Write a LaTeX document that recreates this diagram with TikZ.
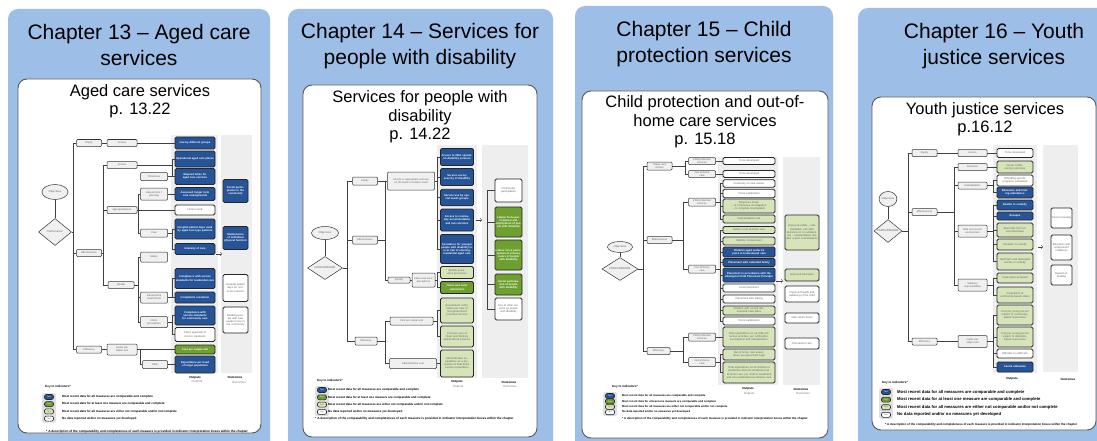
\documentclass[tikz,border=0pt]{standalone}
\usepackage{fontspec}
\setmainfont{Liberation Sans}
\usetikzlibrary{positioning,shapes.geometric}

\definecolor{panelblue}{RGB}{157,190,230}
\definecolor{indblue}{RGB}{38,84,150}
\definecolor{indgreen}{RGB}{110,160,48}
\definecolor{indlight}{RGB}{214,228,186}
\definecolor{colgray}{RGB}{238,238,238}
\definecolor{fwgray}{RGB}{240,240,240}
\definecolor{fwtext}{RGB}{100,100,100}

\begin{document}
\begin{tikzpicture}[x=1pt,y=-1pt,
    panel/.style={fill=panelblue, rounded corners=10pt},
    card/.style={fill=white, draw=black!65, line width=0.9pt, rounded corners=9pt},
    chap/.style={font=\fontsize{21}{26}\selectfont, align=center},
    subttl/.style={font=\fontsize{16.5}{18.5}\selectfont, align=center},
    tinytxt/.style={font=\fontsize{2.7}{3.1}\selectfont},
    fw/.style={draw=black!80, fill=fwgray, rounded corners=1pt, line width=0.5pt, text=fwtext, font=\fontsize{2.6}{2.9}\selectfont, align=center, inner sep=0.5pt},
    ind/.style={draw=black!85, rounded corners=1.5pt, line width=0.8pt, tinytxt, align=center, inner sep=0.5pt},
    blu/.style={ind, fill=indblue, text=white, font=\fontsize{2.7}{3.1}\selectfont\bfseries},
    grn/.style={ind, fill=indgreen, text=white, font=\fontsize{2.7}{3.1}\selectfont\bfseries},
    lgr/.style={ind, fill=indlight, text=fwtext},
    wht/.style={ind, fill=white, text=fwtext},
    outcol/.style={fill=colgray},
    objnode/.style={ellipse, draw=black!80, fill=fwgray, line width=0.5pt, text=fwtext, tinytxt, inner sep=0pt},
    perfnode/.style={diamond, draw=black!80, fill=fwgray, line width=0.5pt, text=fwtext, tinytxt, inner sep=0pt},
    link/.style={draw=black!75, line width=0.5pt},
    wd/.style={text width=#1pt},
    ht/.style={minimum height=#1pt},
    colhead/.style={font=\fontsize{3}{3.5}\selectfont\bfseries},
    colsub/.style={font=\fontsize{3}{3.5}\selectfont, text=black!50},
    pill/.style={draw=black!85, line width=0.6pt, rounded corners=2pt, minimum width=9pt, minimum height=5pt, inner sep=0pt, font=\fontsize{2}{2}\selectfont, text=fwtext},
    keyhd/.style={font=\fontsize{3}{3}\selectfont\bfseries, inner sep=0pt},
    keytxt/.style={inner sep=0pt}]

\useasboundingbox (0,0) rectangle (1097,441);
\clip (0,0) rectangle (1097,441);
\fill[white] (0,0) rectangle (1097,441);

\fill[panel] (8,9) rectangle (270,470);
\fill[panel] (288,9) rectangle (553,470);
\fill[panel] (575,6) rectangle (833,470);
\fill[panel] (858,8) rectangle (1125,470);

\draw[card] (18,79) rectangle (261,433);
\draw[card] (303,85) rectangle (537,437);
\draw[card] (582,91) rectangle (828,438);
\draw[card] (872,97) rectangle (1096,430);

\node[chap] (t13) at (139,45) {Chapter 13 – Aged care\\services};
\node[chap] (t14) at (420,46) {Chapter 14 – Services for\\people with disability};
\node[chap] (t15) at (704,44) {Chapter 15 – Child\\protection services};
\node[chap] (t16) at (994,46) {Chapter 16 – Youth\\justice services};

\node[subttl] (s13) at (140,101) {Aged care services\\p. 13.22};
\node[subttl] (s14) at (420,117) {Services for people with\\disability\\p. 14.22};
\node[subttl] (s15) at (705,122) {Child protection and out-of-\\home care services\\p. 15.18};
\node[subttl] (s16) at (985,119) {Youth justice services\\p.16.12};

% Chapter 13
\fill[outcol] (171,135) rectangle (218,373);
\fill[outcol] (221,135) rectangle (252,373);
\node[objnode, minimum width=26pt, minimum height=15pt] (obj1) at (55,192) {Objectives};
\node[perfnode, minimum width=33pt, minimum height=27pt] (perf1) at (55,232) {Performance};
\draw[link] (obj1) -- (perf1);
\node[fw, wd=24, ht=7] (eq1) at (89,143) {Equity};
\node[fw, wd=24, ht=7] (ef1) at (89,253) {Effectiveness};
\node[fw, wd=24, ht=7] (ey1) at (89,349.5) {Efficiency};
\coordinate (tr11) at (73,232);
\draw[link] (perf1) -- (tr11);
\draw[link] (eq1.west) -| (tr11);
\draw[link] (ef1.west) -| (tr11);
\draw[link] (ey1.west) -| (tr11);

\node[fw, wd=29, ht=7] (acc1) at (122,143) {Access};
\node[blu, wd=39, ht=12] (use1) at (195,143) {Use by different groups};
\draw[link] (eq1) -- (acc1);
\draw[link] (acc1) -- (use1);

\coordinate (tr12) at (103,253);
\draw[link] (ef1) -- (tr12);
\node[fw, wd=29, ht=7] (acc2) at (122,165) {Access};
\node[fw, wd=29, ht=7] (app1) at (122,210) {Appropriateness};
\node[fw, wd=25, ht=7] (qua1) at (121,285) {Quality};
\draw[link] (acc2.west) -| (tr12);
\draw[link] (app1.west) -| (tr12);
\draw[link] (qua1.west) -| (tr12);

\node[blu, wd=39, ht=16] (opp1) at (195,159) {Operational aged care places};
\node[fw, wd=26, ht=8] (tim1) at (154,176.5) {Timeliness};
\node[blu, wd=39, ht=16] (ela1) at (195,176.5) {Elapsed times for aged care services};
\coordinate (j11) at (172,165);
\draw[link] (acc2) -- (j11);
\draw[link] (opp1.west) -| (j11);
\draw[link] (ela1.west) -| (j11);
\draw[link] (tim1) -- (ela1);

\coordinate (tr13) at (138,210);
\node[fw, wd=26, ht=12] (asm1) at (154,194) {Assessment /\\planning};
\node[blu, wd=39, ht=13] (alt1) at (195,194) {Assessed longer term care arrangements};
\node[wht, wd=39, ht=10] (unm1) at (195,210) {Unmet need};
\node[fw, wd=26, ht=8] (care1) at (154,233) {Care};
\node[blu, wd=39, ht=20] (hos1) at (195,229) {Hospital patient days used by aged care type patients};
\node[blu, wd=39, ht=11] (int1) at (195,249) {Intensity of care};
\coordinate (j12) at (172,233);
\draw[link] (app1) -- (unm1);
\draw[link] (asm1.west) -| (tr13);
\draw[link] (care1.west) -| (tr13);
\draw[link] (asm1) -- (alt1);
\draw[link] (care1) -- (j12);
\draw[link] (hos1.west) -| (j12);
\draw[link] (int1.west) -| (j12);

\coordinate (tr14) at (138,285);
\draw[link] (qua1) -- (tr14);
\node[fw, wd=26, ht=10] (saf1) at (154,257) {Safety};
\node[fw, wd=26, ht=11] (ina1) at (154,297.5) {Independent\\assessment};
\node[fw, wd=26, ht=11] (cli1) at (154,322) {Client\\perceptions};
\draw[link] (saf1.west) -| (tr14);
\draw[link] (ina1.west) -| (tr14);
\draw[link] (cli1.west) -| (tr14);
\node[blu, wd=39, ht=20] (csr1) at (195,278.5) {Compliance with service standards for residential care};
\node[blu, wd=39, ht=11] (cre1) at (195,297.5) {Complaints resolution};
\node[blu, wd=39, ht=19] (csc1) at (195,315.5) {Compliance with service standards for community care};
\node[wht, wd=39, ht=14] (cap1) at (195,334.5) {Client appraisal of service standards};
\coordinate (j13) at (172,297.5);
\coordinate (j14) at (172,322);
\draw[link] (ina1) -- (cre1);
\draw[link] (csr1.west) -| (j13);
\draw[link] (cli1) -- (j14);
\draw[link] (csc1.west) -| (j14);
\draw[link] (cap1.west) -| (j14);

\node[fw, wd=29, ht=11] (inp1) at (122,349.5) {Inputs per\\output unit};
\node[grn, wd=39, ht=9] (cpo1) at (195,349.5) {Cost per output unit};
\node[fw, wd=24, ht=8] (oth1) at (155,364.5) {Other};
\node[blu, wd=39, ht=17] (exp1) at (195,364.5) {Expenditure per head of target population};
\coordinate (tr15) at (140,349.5);
\draw[link] (ey1) -- (inp1);
\draw[link] (inp1) -- (cpo1);
\draw[link] (oth1.west) -| (tr15);
\draw[link] (oth1) -- (exp1);

\node[blu, wd=24, ht=23] (soc1) at (235.5,191) {Social participation in the community};
\node[blu, wd=24, ht=23] (mai1) at (235.5,238) {Maintenance of individual physical function};
\node[wht, wd=24, ht=27] (hpd1) at (235.5,288) {Hospital patient days for non-acute reasons};
\node[wht, wd=24, ht=26] (enb1) at (235.5,320) {Enabling people with care needs to live in the community};
\coordinate (oa1) at (216,254);
\coordinate (ob1) at (222,254);
\draw[link,->] (oa1) -- (ob1);
\node[colhead] (op1) at (195,377.5) {Outputs};
\node[colsub] (ops1) at (197,382) {Outputs};
\node[colhead] (oc1) at (235,377.5) {Outcomes};
\node[colsub] (ocs1) at (239,382) {Outcomes};

% Chapter 14
\fill[outcol] (437,145) rectangle (477,378);
\fill[outcol] (482,145) rectangle (528,378);
\node[objnode, minimum width=27pt, minimum height=13pt] (obj2) at (325,233) {Objectives};
\node[perfnode, minimum width=35pt, minimum height=23pt] (perf2) at (325,268) {PERFORMANCE};
\draw[link] (obj2) -- (perf2);
\node[fw, wd=24, ht=8] (eq2) at (365,181) {Equity};
\node[fw, wd=24, ht=8] (ef2) at (365,240) {Effectiveness};
\node[fw, wd=21, ht=8] (ey2) at (366,341) {Efficiency};
\coordinate (tr21) at (347,268);
\draw[link] (perf2) -- (tr21);
\draw[link] (eq2.west) -| (tr21);
\draw[link] (ef2.west) -| (tr21);
\draw[link] (ey2.west) -| (tr21);

\node[fw, wd=46, ht=18] (acr2) at (411,181) {Access to appropriate services on the basis of relative need};
\node[fw, wd=21, ht=6] (qua2) at (399,280) {Quality};
\node[fw, wd=22, ht=14] (cpr2) at (423.5,280) {Client and carer perceptions};
\coordinate (tr22) at (385,240);
\draw[link] (eq2) -- (acr2);
\draw[link] (ef2) -- (tr22);
\draw[link] (acr2.west) -| (tr22);
\draw[link] (qua2.west) -| (tr22);
\draw[link] (qua2) -- (cpr2);

\node[blu, wd=32, ht=17] (i21) at (457,157) {Access to NDA specialist disability services};
\node[blu, wd=32, ht=17] (i22) at (457,177) {Service use by severity of disability};
\node[blu, wd=32, ht=16.5] (i23) at (457,197.5) {Service use by special needs groups};
\node[blu, wd=32, ht=22] (i24) at (457,220) {Access to community accommodation and care services};
\node[blu, wd=32, ht=29] (i25) at (457,249) {Assistance for younger people with disability in, or at risk of entering, residential aged care};
\node[lgr, wd=32, ht=12] (i26) at (457,272.5) {Quality assurance processes};
\node[grn, wd=32, ht=12] (i27) at (457,287.5) {Client and carer satisfaction};
\node[lgr, wd=32, ht=25] (i28) at (457,310.5) {Government contribution per user of non-government provided services};
\node[lgr, wd=32, ht=21] (i29) at (457,336.5) {Cost per user of State and Territory administered services};
\node[lgr, wd=32, ht=27] (i210) at (457,363.5) {Administration expenditure as a proportion of total direct service expenditure};
\coordinate (j21) at (437.5,181);
\draw[link] (acr2) -- (j21);
\draw[link] (i21.west) -| (j21);
\draw[link] (i22.west) -| (j21);
\draw[link] (i23.west) -| (j21);
\draw[link] (i24.west) -| (j21);
\draw[link] (i25.west) -| (j21);
\coordinate (j22) at (437.5,280);
\draw[link] (cpr2) -- (j22);
\draw[link] (i26.west) -| (j22);
\draw[link] (i27.west) -| (j22);

\node[fw, wd=42, ht=8] (cpu2) at (411.5,321) {Cost per output unit};
\node[fw, wd=46, ht=10] (adm2) at (413,363.5) {Administrative cost};
\coordinate (tr23) at (385,341);
\draw[link] (ey2) -- (tr23);
\draw[link] (cpu2.west) -| (tr23);
\draw[link] (adm2.west) -| (tr23);
\coordinate (j23) at (437.5,321);
\draw[link] (cpu2) -- (j23);
\draw[link] (i28.west) -| (j23);
\draw[link] (i29.west) -| (j23);
\draw[link] (adm2) -- (i210);

\node[wht, wd=26, ht=23] (o21) at (508.5,190.5) {Community participation};
\node[grn, wd=26, ht=30] (o22) at (508.5,222) {Labour force participation and employment of people with disability};
\node[grn, wd=26, ht=30] (o23) at (508.5,255) {Labour force participation of primary carers of people with disability};
\node[grn, wd=26, ht=21] (o24) at (508.5,284.5) {Social participation of people with disability};
\node[wht, wd=26, ht=22] (o25) at (508.5,309) {Use of other services by people with disability};
\coordinate (oj2) at (487,250);
\draw[link] (o21.west) -| (oj2);
\draw[link] (o22.west) -| (oj2);
\draw[link] (o23.west) -| (oj2);
\draw[link] (o24.west) -| (oj2);
\draw[link] (o25.west) -| (oj2);
\coordinate (oa2) at (476,220);
\coordinate (ob2) at (482,220);
\draw[link,->] (oa2) -- (ob2);
\node[colhead] (op2) at (457,382) {Outputs};
\node[colsub] (ops2) at (458,386.5) {Outputs};
\node[colhead] (oc2) at (509,382) {Outcomes};
\node[colsub] (ocs2) at (510,386.5) {Outcomes};

% Chapter 15
\fill[outcol] (718,157) rectangle (778,385);
\fill[outcol] (783,157) rectangle (820,385);
\node[objnode, minimum width=25pt, minimum height=11pt] (obj3) at (620,247) {Objectives};
\node[perfnode, minimum width=36pt, minimum height=20pt] (perf3) at (620,269) {PERFORMANCE};
\draw[link] (obj3) -- (perf3);
\node[fw, wd=24, ht=8] (eq3) at (659.5,166) {Equity and\\access};
\node[fw, wd=24, ht=7] (ef3) at (659.5,240) {Effectiveness};
\node[fw, wd=22, ht=7] (ey3) at (658.5,351) {Efficiency};
\coordinate (tr31) at (643,269);
\draw[link] (perf3) -- (tr31);
\draw[link] (eq3.west) -| (tr31);
\draw[link] (ef3.west) -| (tr31);
\draw[link] (ey3.west) -| (tr31);

\node[fw, wd=26, ht=7] (cps31) at (702,161) {Child protection\\services};
\node[fw, wd=26, ht=7] (ohc31) at (702,174) {Out-of-home\\care};
\node[wht, wd=51, ht=7] (tbd31) at (749,161) {To be developed};
\node[wht, wd=51, ht=7] (tbd32) at (749,174) {To be developed};
\coordinate (tr32) at (685,166);
\draw[link] (eq3) -- (tr32);
\draw[link] (cps31.west) -| (tr32);
\draw[link] (ohc31.west) -| (tr32);
\draw[link] (cps31) -- (tbd31);
\draw[link] (ohc31) -- (tbd32);

\node[fw, wd=26, ht=8] (cps32) at (702,202) {Child protection\\services};
\node[fw, wd=26, ht=8] (ohc32) at (702,269) {Out-of-home\\care};
\coordinate (tr33) at (683,240);
\draw[link] (ef3) -- (tr33);
\draw[link] (cps32.west) -| (tr33);
\draw[link] (ohc32.west) -| (tr33);
\node[wht, wd=51, ht=7.5] (c31) at (749,183.5) {Continuity of case worker};
\node[wht, wd=51, ht=8.5] (c32) at (749,193.5) {Client satisfaction};
\node[lgr, wd=51, ht=14] (c33) at (749,206) {Response times:\\– to commence investigation\\– to complete investigation};
\node[lgr, wd=51, ht=8] (c34) at (749,219) {Substantiation rate};
\coordinate (j31) at (720,202);
\draw[link] (cps32) -- (j31);
\draw[link] (c31.west) -| (j31);
\draw[link] (c32.west) -| (j31);
\draw[link] (c33.west) -| (j31);
\draw[link] (c34.west) -| (j31);
\node[lgr, wd=51, ht=7] (d31) at (749,230) {Safety in out-of-home care};
\node[lgr, wd=51, ht=8] (d32) at (749,241) {Stability of placement};
\node[blu, wd=51, ht=10] (d33) at (749,252) {Children aged under 12 years in home-based care};
\node[blu, wd=51, ht=8] (d34) at (749,262.5) {Placement with extended family};
\node[blu, wd=51, ht=14] (d35) at (749,275) {Placement in accordance with the Aboriginal Child Placement Principle};
\node[wht, wd=51, ht=8] (d36) at (749,288) {Local placement};
\node[wht, wd=51, ht=8] (d37) at (749,299) {Placement with sibling};
\node[lgr, wd=51, ht=9] (d38) at (749,310.5) {Children with current documented case plans};
\node[wht, wd=51, ht=8] (d39) at (749,321) {Client satisfaction};
\coordinate (j32) at (720,269);
\draw[link] (ohc32) -- (j32);
\draw[link] (d31.west) -| (j32);
\draw[link] (d32.west) -| (j32);
\draw[link] (d33.west) -| (j32);
\draw[link] (d34.west) -| (j32);
\draw[link] (d35.west) -| (j32);
\draw[link] (d36.west) -| (j32);
\draw[link] (d37.west) -| (j32);
\draw[link] (d38.west) -| (j32);
\draw[link] (d39.west) -| (j32);

\node[fw, wd=26, ht=8] (cps33) at (702,337) {Child protection\\services};
\node[fw, wd=26, ht=9] (ohc33) at (702,362) {Out-of-home\\care};
\coordinate (tr34) at (683,351);
\draw[link] (ey3) -- (tr34);
\draw[link] (cps33.west) -| (tr34);
\draw[link] (ohc33.west) -| (tr34);
\node[lgr, wd=51, ht=20] (e31) at (749,337) {Total expenditure on all child protection activities, per notification, investigation and substantiation};
\node[lgr, wd=51, ht=11] (e32) at (749,354.5) {Out-of-home care expenditure per placement night};
\node[lgr, wd=51, ht=21] (e33) at (749,372.5) {Total expenditure on all children in residential and non-residential out-of-home care, per child in residential and non-residential out-of-home care};
\coordinate (j33) at (720,362);
\draw[link] (cps33) -- (e31);
\draw[link] (ohc33) -- (j33);
\draw[link] (e32.west) -| (j33);
\draw[link] (e33.west) -| (j33);

\node[lgr, wd=33, ht=35] (f31) at (802,232.5) {Improved safety – substantiation rate after decision not to substantiate – substantiation rate after a prior substantiation};
\node[lgr, wd=33, ht=12] (f32) at (802,275) {Improved education};
\node[wht, wd=33, ht=16] (f33) at (802,294) {Improved health and wellbeing of the child};
\node[wht, wd=33, ht=10] (f34) at (802,318) {Safe return home};
\node[wht, wd=33, ht=11] (f35) at (802,343.5) {Permanent care};
\coordinate (oa3) at (776,281);
\coordinate (ob3) at (783,281);
\draw[link,->] (oa3) -- (ob3);
\node[colhead] (op3) at (748,389) {Outputs};
\node[colsub] (ops3) at (749,393.5) {Outputs};
\node[colhead] (oc3) at (801,389) {Outcomes};
\node[colsub] (ocs3) at (803,393.5) {Outcomes};

% Chapter 16
\fill[outcol] (993,145) rectangle (1037,373);
\fill[outcol] (1043,145) rectangle (1078,372);
\node[objnode, minimum width=14pt, minimum height=15pt] (obj4) at (888,199) {Objectives};
\node[perfnode, minimum width=28pt, minimum height=20pt] (perf4) at (888,231) {PERFORMANCE};
\draw[link] (obj4) -- (perf4);
\node[fw, wd=24, ht=7] (eq4) at (924.5,153) {Equity};
\node[fw, wd=24, ht=7] (ef4) at (924.5,212) {Effectiveness};
\node[fw, wd=24, ht=7] (ey4) at (924.5,341.5) {Efficiency};
\coordinate (tr41) at (908,231);
\draw[link] (perf4) -- (tr41);
\draw[link] (eq4.west) -| (tr41);
\draw[link] (ef4.west) -| (tr41);
\draw[link] (ey4.west) -| (tr41);

\node[fw, wd=28, ht=7] (ac4) at (972.5,153) {Access};
\node[wht, wd=35, ht=9] (tb4) at (1015,153) {To be developed};
\draw[link] (eq4) -- (ac4);
\draw[link] (ac4) -- (tb4);

\coordinate (tr42) at (954,212);
\draw[link] (ef4) -- (tr42);
\node[fw, wd=28, ht=7] (div4) at (972.5,167) {Diversion};
\node[fw, wd=28, ht=7] (reh4) at (972.5,185.5) {Rehabilitation};
\node[fw, wd=28, ht=12] (saf4) at (972.5,231) {Safe and secure\\environment};
\node[fw, wd=28, ht=12] (sta4) at (972.5,285) {Statutory\\responsibilities};
\draw[link] (div4.west) -| (tr42);
\draw[link] (reh4.west) -| (tr42);
\draw[link] (saf4.west) -| (tr42);
\draw[link] (sta4.west) -| (tr42);

\node[lgr, wd=35, ht=12] (g41) at (1015,167) {Group conferencing outcomes};
\node[wht, wd=35, ht=11] (g42) at (1015,180.5) {Offending-specific programs completed};
\node[blu, wd=35, ht=11] (g43) at (1015,192.5) {Education and training attendance};
\draw[link] (div4) -- (g41);
\coordinate (j41) at (993,185.5);
\draw[link] (reh4) -- (j41);
\draw[link] (g42.west) -| (j41);
\draw[link] (g43.west) -| (j41);

\node[blu, wd=35, ht=10] (h41) at (1015,205) {Deaths in custody};
\node[blu, wd=35, ht=8] (h42) at (1015,216) {Escapes};
\node[lgr, wd=35, ht=14] (h43) at (1015,230) {Absconds from unescorted leave};
\node[lgr, wd=35, ht=11] (h44) at (1015,244.5) {Assaults in custody};
\node[lgr, wd=35, ht=17] (h45) at (1015,261.5) {Self-harm and attempted suicide in custody};
\coordinate (j42) at (993,231);
\draw[link] (saf4) -- (j42);
\draw[link] (h41.west) -| (j42);
\draw[link] (h42.west) -| (j42);
\draw[link] (h43.west) -| (j42);
\draw[link] (h44.west) -| (j42);
\draw[link] (h45.west) -| (j42);

\node[lgr, wd=35, ht=10] (k41) at (1015,278) {Case plans prepared};
\node[lgr, wd=35, ht=16] (k42) at (1015,295) {Completion of community-based orders};
\coordinate (j43) at (993,285);
\draw[link] (sta4) -- (j43);
\draw[link] (k41.west) -| (j43);
\draw[link] (k42.west) -| (j43);

\node[fw, wd=28, ht=12] (ip4) at (972.5,341.5) {Inputs per\\output unit};
\node[lgr, wd=35, ht=20] (m41) at (1015,315) {Cost per young person subject to community-based supervision};
\node[lgr, wd=35, ht=20] (m42) at (1015,337) {Cost per young person subject to detention-based supervision};
\node[wht, wd=35, ht=9] (m43) at (1015,353.5) {Offender-to-staff ratio};
\node[blu, wd=35, ht=10] (m44) at (1015,367) {Centre utilisation};
\coordinate (j44) at (993,341.5);
\draw[link] (ey4) -- (ip4);
\draw[link] (ip4) -- (j44);
\draw[link] (m41.west) -| (j44);
\draw[link] (m42.west) -| (j44);
\draw[link] (m43.west) -| (j44);
\draw[link] (m44.west) -| (j44);

\node[wht, wd=20, ht=20] (n41) at (1061.5,218) {Secure housing};
\node[wht, wd=20, ht=25] (n42) at (1061.5,247.5) {Education and employment readiness};
\node[wht, wd=20, ht=20] (n43) at (1061.5,275) {Repeat offending};
\coordinate (oa4) at (1038,247);
\coordinate (ob4) at (1043,247);
\draw[link,->] (oa4) -- (ob4);
\node[colhead] (op4) at (1012,379) {Outputs};
\node[colhead] (oc4) at (1068,379) {Outcomes};

% keys
\foreach \kx/\ky/\px/\py/\dy/\tx/\fs/\fx/\fy/\ff/\n in {45/387/49/397/7.2/62/3.0/46/432/3.15/a, 317/381/322/390/7.3/328/3.0/315/419/3.1/b, 612/387/610/396/5.4/622/2.75/622/419/2.9/c, 882/383/886/392/7.6/897/4.2/885/425/3.0/d}{
  \fill[black!12, rounded corners=1.5pt] (\px-7,\py-4) rectangle (\px+7,\py+3*\dy+4);
  \node[keyhd, anchor=west] (kh\n) at (\kx,\ky) {Key to indicators*};
  \node[pill, fill=indblue, text=white] (p1\n) at (\px,\py) {Text};
  \node[pill, fill=indgreen, text=white] (p2\n) at (\px,\py+\dy) {Text};
  \node[pill, fill=indlight] (p3\n) at (\px,\py+2*\dy) {Text};
  \node[pill, fill=white] (p4\n) at (\px,\py+3*\dy) {Text};
  \node[keytxt, anchor=west, font=\fontsize{\fs}{\fs}\selectfont\bfseries] (k1\n) at (\tx,\py) {Most recent data for all measures are comparable and complete};
  \node[keytxt, anchor=west, font=\fontsize{\fs}{\fs}\selectfont\bfseries] (k2\n) at (\tx,\py+\dy) {Most recent data for at least one measure are comparable and complete};
  \node[keytxt, anchor=west, font=\fontsize{\fs}{\fs}\selectfont\bfseries] (k3\n) at (\tx,\py+2*\dy) {Most recent data for all measures are either not comparable and/or not complete};
  \node[keytxt, anchor=west, font=\fontsize{\fs}{\fs}\selectfont\bfseries] (k4\n) at (\tx,\py+3*\dy) {No data reported and/or no measures yet developed};
  \node[keytxt, anchor=west, font=\fontsize{\ff}{\ff}\selectfont\bfseries] (fn\n) at (\fx,\fy) {* A description of the comparability and completeness of each measure is provided in indicator interpretation boxes within the chapter};
}
\end{tikzpicture}
\end{document}
